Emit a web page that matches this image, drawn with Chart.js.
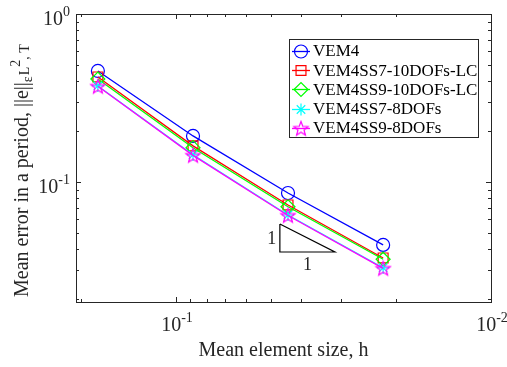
<!DOCTYPE html>
<html>
<head>
<meta charset="utf-8">
<script src="https://cdn.jsdelivr.net/npm/chart.js@4"></script>
<style>
  html, body { margin: 0; padding: 0; background: #fff; }
  #wrap { width: 507px; height: 367px; }
</style>
</head>
<body>
<div id="wrap"><canvas id="chart" width="507" height="367"></canvas></div>
<script>
// mean element size h (x axis, reversed log)
const meshSizes = [0.177, 0.0883, 0.0441, 0.0220];

// mean error per method
const errVEM4 = [0.458, 0.188, 0.0860, 0.0422];
const errSS7_10LC = [0.422, 0.164, 0.0730, 0.0353];
const errSS9_10LC = [0.410, 0.160, 0.0712, 0.0347];
const errSS7_8 = [0.373, 0.145, 0.0636, 0.0308];
const errSS9_8 = [0.371, 0.144, 0.0632, 0.0306];

const seriesNames = ['VEM4', 'VEM4SS7-10DOFs-LC', 'VEM4SS9-10DOFs-LC', 'VEM4SS7-8DOFs', 'VEM4SS9-8DOFs'];

// slope triangle
const triX = [0.0468, 0.0468, 0.0313, 0.0468];
const triY = [0.0562, 0.0383, 0.0383, 0.0562];

// axes
const xMin = 0.01, xMax = 0.2077;
const yMin = 0.0193, yMax = 1;
const xMajor = [0.1, 0.01];
const xMajorLabels = [['10', '-1'], ['10', '-2']];
const yMajor = [1, 0.1];
const yMajorLabels = [['10', '0'], ['10', '-1']];

const SERIF = '"Liberation Serif", "Times New Roman", serif';

// pentagram marker (MATLAB 'p')
function makePentagram(color, r) {
    const c = document.createElement('canvas');
    const s = Math.ceil(r * 2 + 3);
    c.width = s; c.height = s;
    const g = c.getContext('2d');
    g.strokeStyle = color;
    g.lineWidth = 1.2;
    g.beginPath();
    for (let i = 0; i < 10; i++) {
        const rad = i % 2 === 0 ? r : r * 0.42;
        const a = -Math.PI / 2 + i * Math.PI / 5;
        const px = s / 2 + rad * Math.cos(a), py = s / 2 + 0.5 + rad * Math.sin(a);
        if (i === 0) g.moveTo(px, py); else g.lineTo(px, py);
    }
    g.closePath();
    g.stroke();
    return c;
}
const pentagram = makePentagram('#ff00ff', 7.5);

function pts(ys) { return meshSizes.map((x, i) => ({ x: x, y: ys[i] })); }

const styles = [
    { color: '#0000ff', point: 'circle', r: 6.5 },
    { color: '#ff0000', point: 'rect', r: 7 },
    { color: '#00ff00', point: 'rectRot', r: 7 },
    { color: '#00ffff', point: 'star', r: 6 },
    { color: '#ff00ff', point: pentagram, r: 7.5 }
];
const allErr = [errVEM4, errSS7_10LC, errSS9_10LC, errSS7_8, errSS9_8];

const datasets = allErr.map((ys, i) => ({
    label: seriesNames[i],
    data: pts(ys),
    borderColor: styles[i].color,
    backgroundColor: 'rgba(0,0,0,0)',
    pointBorderColor: styles[i].color,
    pointBackgroundColor: 'rgba(0,0,0,0)',
    pointStyle: styles[i].point,
    pointRadius: styles[i].r,
    pointBorderWidth: 1.2,
    borderWidth: 1.3,
    fill: false,
    order: 10 - i
}));
datasets.push({
    label: 'slope',
    data: triX.map((x, i) => ({ x: x, y: triY[i] })),
    borderColor: '#000',
    borderWidth: 1.2,
    pointRadius: 0,
    fill: false,
    order: 20
});

function drawMarker(ctx, st, x, y) {
    ctx.save();
    ctx.strokeStyle = st.color;
    ctx.lineWidth = 1.2;
    const r = st.r;
    ctx.beginPath();
    if (st.point === 'circle') {
        ctx.arc(x, y, r, 0, Math.PI * 2);
    } else if (st.point === 'rect') {
        const s = r * Math.SQRT1_2;
        ctx.rect(x - s, y - s, 2 * s, 2 * s);
    } else if (st.point === 'rectRot') {
        ctx.moveTo(x - r, y); ctx.lineTo(x, y - r); ctx.lineTo(x + r, y); ctx.lineTo(x, y + r); ctx.closePath();
    } else if (st.point === 'star') {
        ctx.moveTo(x - r, y); ctx.lineTo(x + r, y);
        ctx.moveTo(x, y - r); ctx.lineTo(x, y + r);
        const d = r * Math.SQRT1_2;
        ctx.moveTo(x - d, y - d); ctx.lineTo(x + d, y + d);
        ctx.moveTo(x - d, y + d); ctx.lineTo(x + d, y - d);
    } else {
        ctx.drawImage(st.point, x - st.point.width / 2, y - st.point.height / 2);
    }
    ctx.stroke();
    ctx.restore();
}

function minorTicks(lo, hi) {
    const out = [];
    for (let e = -3; e <= 1; e++) {
        for (let k = 2; k <= 9; k++) {
            const v = k * Math.pow(10, e);
            if (v > lo * 1.0001 && v < hi * 0.9999) out.push(v);
        }
    }
    return out;
}

const matlabAxes = {
    id: 'matlabAxes',
    afterDraw(chart) {
        const ctx = chart.ctx;
        const a = chart.chartArea;
        const xs = chart.scales.x, ys = chart.scales.y;
        ctx.save();
        ctx.strokeStyle = '#262626';
        ctx.lineWidth = 1;

        // ticks, inward on all sides
        ctx.beginPath();
        const tickX = (v, len) => {
            const px = Math.round(xs.getPixelForValue(v)) + 0.5;
            ctx.moveTo(px, a.bottom); ctx.lineTo(px, a.bottom - len);
            ctx.moveTo(px, a.top); ctx.lineTo(px, a.top + len);
        };
        const tickY = (v, len) => {
            const py = Math.round(ys.getPixelForValue(v)) + 0.5;
            ctx.moveTo(a.left, py); ctx.lineTo(a.left + len, py);
            ctx.moveTo(a.right, py); ctx.lineTo(a.right - len, py);
        };
        xMajor.forEach(v => tickX(v, 5));
        minorTicks(xMin, xMax).forEach(v => tickX(v, 3));
        yMajor.forEach(v => tickY(v, 5));
        minorTicks(yMin, yMax).forEach(v => tickY(v, 3));
        ctx.stroke();

        // box
        ctx.strokeRect(Math.round(a.left) + 0.5, Math.round(a.top) + 0.5,
            Math.round(a.right - a.left), Math.round(a.bottom - a.top));

        // tick labels
        ctx.fillStyle = '#262626';
        ctx.textBaseline = 'alphabetic';
        xMajor.forEach((v, i) => {
            const px = xs.getPixelForValue(v);
            const [base, sup] = xMajorLabels[i];
            ctx.font = '20px ' + SERIF;
            const wb = ctx.measureText(base).width;
            ctx.font = '14px ' + SERIF;
            const ws = ctx.measureText(sup).width;
            const x0 = px - (wb + ws) / 2 + 1;
            ctx.textAlign = 'left';
            ctx.font = '20px ' + SERIF;
            ctx.fillText(base, x0, a.bottom + 29);
            ctx.font = '14px ' + SERIF;
            ctx.fillText(sup, x0 + wb, a.bottom + 20);
        });
        yMajor.forEach((v, i) => {
            const py = ys.getPixelForValue(v);
            const [base, sup] = yMajorLabels[i];
            ctx.font = '14px ' + SERIF;
            const ws = ctx.measureText(sup).width;
            ctx.font = '20px ' + SERIF;
            const wb = ctx.measureText(base).width;
            const xEnd = a.left - 6;
            ctx.textAlign = 'left';
            ctx.fillText(base, xEnd - ws - wb, py + 11);
            ctx.font = '14px ' + SERIF;
            ctx.fillText(sup, xEnd - ws, py + 2);
        });

        // x title
        ctx.font = '20px ' + SERIF;
        ctx.textAlign = 'center';
        ctx.fillText('Mean element size, h', (a.left + a.right) / 2 + 0, a.bottom + 54);

        // y title (rotated, with sub/superscripts)
        ctx.save();
        ctx.translate(28, 297);
        ctx.rotate(-Math.PI / 2);
        ctx.textAlign = 'left';
        const parts = [
            ['Mean error in a period, ||e||', 20, 0],
            ['\u03b5', 14, 4],
            ['L', 14, 1],
            ['2', 14, -8],
            [', T', 14, 1]
        ];
        let cx = 0;
        parts.forEach(([t, fs, dy]) => {
            ctx.font = fs + 'px ' + SERIF;
            ctx.fillText(t, cx, dy);
            cx += ctx.measureText(t).width + (t === '\u03b5' ? 1 : 0);
        });
        ctx.restore();

        // slope triangle labels
        ctx.font = '18px ' + SERIF;
        ctx.textAlign = 'center';
        const tx = xs.getPixelForValue(triX[0]);
        const tyMid = (ys.getPixelForValue(triY[0]) + ys.getPixelForValue(triY[1])) / 2;
        ctx.fillText('1', tx - 8, tyMid + 6);
        const bxMid = (xs.getPixelForValue(triX[1]) + xs.getPixelForValue(triX[2])) / 2;
        ctx.fillText('1', bxMid, ys.getPixelForValue(triY[1]) + 18);

        // legend
        const lx = 289, ly = 39, lw = 189, lh = 98;
        ctx.fillStyle = '#fff';
        ctx.fillRect(lx, ly, lw, lh);
        ctx.strokeStyle = '#262626';
        ctx.strokeRect(lx + 0.5, ly + 0.5, lw, lh);
        ctx.font = '17px ' + SERIF;
        ctx.textAlign = 'left';
        ctx.textBaseline = 'middle';
        seriesNames.forEach((name, i) => {
            const y = ly + 12 + i * 19.2;
            const st = styles[i];
            ctx.strokeStyle = st.color;
            ctx.lineWidth = 1.3;
            ctx.beginPath();
            ctx.moveTo(lx + 3, Math.round(y) + 0.5);
            ctx.lineTo(lx + 21, Math.round(y) + 0.5);
            ctx.stroke();
            drawMarker(ctx, st, lx + 12, Math.round(y) + 0.5);
            ctx.fillStyle = '#000';
            ctx.fillText(name, lx + 24, y + 1);
        });
        ctx.restore();
    }
};

new Chart(document.getElementById('chart'), {
    type: 'line',
    data: { datasets: datasets },
    options: {
        responsive: false,
        animation: false,
        layout: { padding: { left: 76, right: 16, top: 14, bottom: 65 } },
        plugins: { legend: { display: false }, tooltip: { enabled: false } },
        scales: {
            x: { type: 'logarithmic', reverse: true, min: xMin, max: xMax, display: false },
            y: { type: 'logarithmic', min: yMin, max: yMax, display: false }
        }
    },
    plugins: [matlabAxes]
});
</script>
</body>
</html>
